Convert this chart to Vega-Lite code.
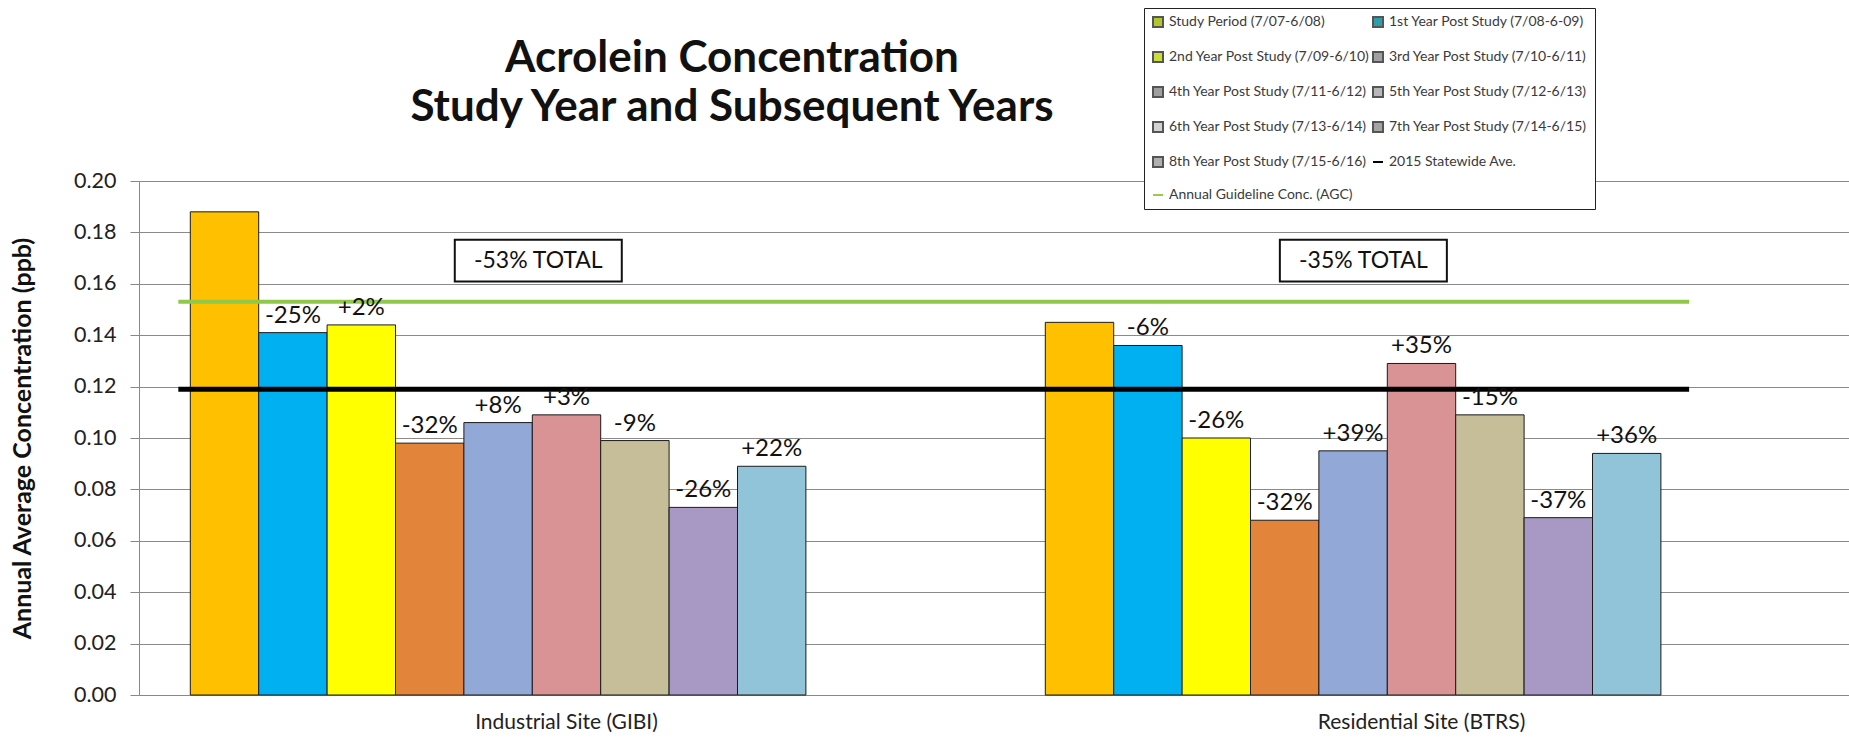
{
  "$schema": "https://vega.github.io/schema/vega-lite/v6.json",
  "width": 1710,
  "height": 514,
  "autosize": {"type": "none"},
  "padding": {"left": 139, "top": 181, "right": 0, "bottom": 44},
  "background": "white",
  "title": {
    "text": ["Acrolein Concentration", "Study Year and Subsequent Years"],
    "font": "Lato",
    "fontSize": 44,
    "fontWeight": "bold",
    "color": "#111111",
    "anchor": "middle",
    "frame": "group",
    "dx": -262,
    "dy": 122,
    "offset": 0,
    "lineHeight": 49
  },
  "config": {
    "view": {"stroke": null},
    "font": "Lato",
    "axis": {"labelFont": "Lato", "titleFont": "Lato"}
  },
  "resolve": {"scale": {"color": "independent", "shape": "independent", "stroke": "independent"}},
  "datasets": {
    "annual": [
      {"site": "Industrial Site (GIBI)", "series": "Study Period (7/07-6/08)", "value": 0.188, "change": ""},
      {"site": "Industrial Site (GIBI)", "series": "1st Year Post Study (7/08-6-09)", "value": 0.141, "change": "-25%"},
      {"site": "Industrial Site (GIBI)", "series": "2nd Year Post Study (7/09-6/10)", "value": 0.144, "change": "+2%"},
      {"site": "Industrial Site (GIBI)", "series": "3rd Year Post Study (7/10-6/11)", "value": 0.098, "change": "-32%"},
      {"site": "Industrial Site (GIBI)", "series": "4th Year Post Study (7/11-6/12)", "value": 0.106, "change": "+8%"},
      {"site": "Industrial Site (GIBI)", "series": "5th Year Post Study (7/12-6/13)", "value": 0.109, "change": "+3%"},
      {"site": "Industrial Site (GIBI)", "series": "6th Year Post Study (7/13-6/14)", "value": 0.099, "change": "-9%"},
      {"site": "Industrial Site (GIBI)", "series": "7th Year Post Study (7/14-6/15)", "value": 0.073, "change": "-26%"},
      {"site": "Industrial Site (GIBI)", "series": "8th Year Post Study (7/15-6/16)", "value": 0.089, "change": "+22%"},
      {"site": "Residential Site (BTRS)", "series": "Study Period (7/07-6/08)", "value": 0.145, "change": ""},
      {"site": "Residential Site (BTRS)", "series": "1st Year Post Study (7/08-6-09)", "value": 0.136, "change": "-6%"},
      {"site": "Residential Site (BTRS)", "series": "2nd Year Post Study (7/09-6/10)", "value": 0.100, "change": "-26%"},
      {"site": "Residential Site (BTRS)", "series": "3rd Year Post Study (7/10-6/11)", "value": 0.068, "change": "-32%"},
      {"site": "Residential Site (BTRS)", "series": "4th Year Post Study (7/11-6/12)", "value": 0.095, "change": "+39%"},
      {"site": "Residential Site (BTRS)", "series": "5th Year Post Study (7/12-6/13)", "value": 0.129, "change": "+35%"},
      {"site": "Residential Site (BTRS)", "series": "6th Year Post Study (7/13-6/14)", "value": 0.109, "change": "-15%"},
      {"site": "Residential Site (BTRS)", "series": "7th Year Post Study (7/14-6/15)", "value": 0.069, "change": "-37%"},
      {"site": "Residential Site (BTRS)", "series": "8th Year Post Study (7/15-6/16)", "value": 0.094, "change": "+36%"}
    ],
    "references": [
      {"series": "2015 Statewide Ave.", "value": 0.119},
      {"series": "Annual Guideline Conc. (AGC)", "value": 0.153}
    ],
    "legendEntries": [
      {"series": "Study Period (7/07-6/08)"},
      {"series": "1st Year Post Study (7/08-6-09)"},
      {"series": "2nd Year Post Study (7/09-6/10)"},
      {"series": "3rd Year Post Study (7/10-6/11)"},
      {"series": "4th Year Post Study (7/11-6/12)"},
      {"series": "5th Year Post Study (7/12-6/13)"},
      {"series": "6th Year Post Study (7/13-6/14)"},
      {"series": "7th Year Post Study (7/14-6/15)"},
      {"series": "8th Year Post Study (7/15-6/16)"},
      {"series": "2015 Statewide Ave."},
      {"series": "Annual Guideline Conc. (AGC)"}
    ],
    "totals": [
      {"site": "Industrial Site (GIBI)", "note": "-53% TOTAL"},
      {"site": "Residential Site (BTRS)", "note": "-35% TOTAL"}
    ]
  },
  "layer": [
    {
      "data": {"name": "annual"},
      "mark": {"type": "bar", "stroke": "#1a1a1a", "strokeWidth": 1},
      "encoding": {
        "x": {
          "field": "site",
          "type": "nominal",
          "sort": ["Industrial Site (GIBI)", "Residential Site (BTRS)"],
          "scale": {"paddingInner": 0, "paddingOuter": 0},
          "axis": {
            "title": null,
            "labelAngle": 0,
            "ticks": false,
            "labelFontSize": 21,
            "labelLimit": 500,
            "labelColor": "#222222",
            "labelPadding": 16,
            "domainColor": "#888888",
            "domainWidth": 1
          }
        },
        "xOffset": {
          "field": "series",
          "type": "nominal",
          "scale": {
            "domain": [
              "Study Period (7/07-6/08)",
              "1st Year Post Study (7/08-6-09)",
              "2nd Year Post Study (7/09-6/10)",
              "3rd Year Post Study (7/10-6/11)",
              "4th Year Post Study (7/11-6/12)",
              "5th Year Post Study (7/12-6/13)",
              "6th Year Post Study (7/13-6/14)",
              "7th Year Post Study (7/14-6/15)",
              "8th Year Post Study (7/15-6/16)",
              "2015 Statewide Ave.",
              "Annual Guideline Conc. (AGC)"
            ],
            "paddingInner": 0,
            "paddingOuter": 0.75,
            "align": 0.5
          }
        },
        "y": {
          "field": "value",
          "type": "quantitative",
          "scale": {"domain": [0, 0.2], "nice": false},
          "axis": {
            "values": [0, 0.02, 0.04, 0.06, 0.08, 0.1, 0.12, 0.14, 0.16, 0.18, 0.2],
            "format": ".2f",
            "title": "Annual Average Concentration (ppb)",
            "titleFontSize": 25,
            "titleFontWeight": "bold",
            "titleColor": "#111111",
            "titlePadding": 38,
            "labelFontSize": 21.5,
            "labelColor": "#222222",
            "labelPadding": 14,
            "tickSize": 9,
            "tickColor": "#888888",
            "gridColor": "#8a8a8a",
            "gridWidth": 1,
            "domainColor": "#888888"
          }
        },
        "color": {
          "field": "series",
          "type": "nominal",
          "scale": {
            "domain": [
              "Study Period (7/07-6/08)",
              "1st Year Post Study (7/08-6-09)",
              "2nd Year Post Study (7/09-6/10)",
              "3rd Year Post Study (7/10-6/11)",
              "4th Year Post Study (7/11-6/12)",
              "5th Year Post Study (7/12-6/13)",
              "6th Year Post Study (7/13-6/14)",
              "7th Year Post Study (7/14-6/15)",
              "8th Year Post Study (7/15-6/16)"
            ],
            "range": ["#FFC000", "#00B0F0", "#FFFF00", "#E2843A", "#92A8D6", "#D99394", "#C5BE98", "#A898C4", "#91C4D8"]
          },
          "legend": null
        }
      }
    },
    {
      "data": {"name": "references"},
      "mark": {"type": "rule"},
      "encoding": {
        "x": {"datum": "Industrial Site (GIBI)", "bandPosition": 0.046},
        "x2": {"datum": "Residential Site (BTRS)", "bandPosition": 0.813},
        "y": {"field": "value", "type": "quantitative"},
        "color": {
          "field": "series",
          "type": "nominal",
          "scale": {"domain": ["2015 Statewide Ave.", "Annual Guideline Conc. (AGC)"], "range": ["#000000", "#92C84A"]},
          "legend": null
        },
        "strokeWidth": {
          "field": "series",
          "type": "nominal",
          "scale": {"domain": ["2015 Statewide Ave.", "Annual Guideline Conc. (AGC)"], "range": [5, 4]},
          "legend": null
        }
      }
    },
    {
      "data": {"name": "annual"},
      "mark": {"type": "text", "baseline": "bottom", "dy": -5, "fontSize": 24, "font": "Lato", "color": "#111111"},
      "encoding": {
        "x": {"field": "site", "type": "nominal", "sort": ["Industrial Site (GIBI)", "Residential Site (BTRS)"]},
        "xOffset": {"field": "series", "type": "nominal"},
        "y": {"field": "value", "type": "quantitative"},
        "text": {"field": "change"}
      }
    },
    {
      "data": {"name": "totals"},
      "transform": [{"filter": "datum.site === 'Industrial Site (GIBI)'"}],
      "encoding": {
        "x": {"field": "site", "type": "nominal", "bandPosition": 0.467},
        "y": {"datum": 0.169}
      },
      "layer": [
        {
          "mark": {"type": "point", "shape": "M-1,-0.25H1V0.25H-1Z", "size": 27889, "filled": true, "fill": "white", "stroke": "#111111", "strokeWidth": 2, "opacity": 1}
        },
        {
          "mark": {"type": "text", "fontSize": 23, "font": "Lato", "color": "#111111", "baseline": "middle"},
          "encoding": {"text": {"field": "note"}}
        }
      ]
    },
    {
      "data": {"name": "totals"},
      "transform": [{"filter": "datum.site === 'Residential Site (BTRS)'"}],
      "encoding": {
        "x": {"field": "site", "type": "nominal", "bandPosition": 0.432},
        "y": {"datum": 0.169}
      },
      "layer": [
        {
          "mark": {"type": "point", "shape": "M-1,-0.25H1V0.25H-1Z", "size": 27889, "filled": true, "fill": "white", "stroke": "#111111", "strokeWidth": 2, "opacity": 1}
        },
        {
          "mark": {"type": "text", "fontSize": 23, "font": "Lato", "color": "#111111", "baseline": "middle"},
          "encoding": {"text": {"field": "note"}}
        }
      ]
    },
    {
      "data": {"name": "legendEntries"},
      "mark": {"type": "point", "filled": true, "opacity": 0.001},
      "encoding": {
        "x": {"datum": "Industrial Site (GIBI)", "bandPosition": 0.1},
        "y": {"datum": 0.05},
        "color": {
          "field": "series",
          "type": "nominal",
          "scale": {
            "domain": [
              "Study Period (7/07-6/08)",
              "1st Year Post Study (7/08-6-09)",
              "2nd Year Post Study (7/09-6/10)",
              "3rd Year Post Study (7/10-6/11)",
              "4th Year Post Study (7/11-6/12)",
              "5th Year Post Study (7/12-6/13)",
              "6th Year Post Study (7/13-6/14)",
              "7th Year Post Study (7/14-6/15)",
              "8th Year Post Study (7/15-6/16)",
              "2015 Statewide Ave.",
              "Annual Guideline Conc. (AGC)"
            ],
            "range": ["#B3C62E", "#2E9EA8", "#C9DC3A", "#A0A0A0", "#A0A0A0", "#B8B8B8", "#D2D2D2", "#A4A4A4", "#B0B0B0", "#000000", "#9BC94A"]
          },
          "legend": {
            "title": null,
            "orient": "none",
            "legendX": 1005,
            "legendY": -173,
            "columns": 2,
            "direction": "horizontal",
            "fillColor": "white",
            "strokeColor": "#222222",
            "padding": 7,
            "rowPadding": 17,
            "columnPadding": -10,
            "labelFont": "Lato",
            "labelFontSize": 14,
            "labelColor": "#3a3a3a",
            "labelOffset": 4,
            "labelLimit": 320,
            "symbolSize": 100,
            "symbolStrokeWidth": 2,
            "symbolOpacity": 1
          }
        },
        "shape": {
          "field": "series",
          "type": "nominal",
          "scale": {
            "domain": [
              "Study Period (7/07-6/08)",
              "1st Year Post Study (7/08-6-09)",
              "2nd Year Post Study (7/09-6/10)",
              "3rd Year Post Study (7/10-6/11)",
              "4th Year Post Study (7/11-6/12)",
              "5th Year Post Study (7/12-6/13)",
              "6th Year Post Study (7/13-6/14)",
              "7th Year Post Study (7/14-6/15)",
              "8th Year Post Study (7/15-6/16)",
              "2015 Statewide Ave.",
              "Annual Guideline Conc. (AGC)"
            ],
            "range": ["square", "square", "square", "square", "square", "square", "square", "square", "square", "stroke", "stroke"]
          },
          "legend": {
            "title": null,
            "orient": "none",
            "legendX": 1005,
            "legendY": -173,
            "columns": 2,
            "direction": "horizontal",
            "symbolOpacity": 1
          }
        },
        "stroke": {
          "field": "series",
          "type": "nominal",
          "scale": {
            "domain": [
              "Study Period (7/07-6/08)",
              "1st Year Post Study (7/08-6-09)",
              "2nd Year Post Study (7/09-6/10)",
              "3rd Year Post Study (7/10-6/11)",
              "4th Year Post Study (7/11-6/12)",
              "5th Year Post Study (7/12-6/13)",
              "6th Year Post Study (7/13-6/14)",
              "7th Year Post Study (7/14-6/15)",
              "8th Year Post Study (7/15-6/16)",
              "2015 Statewide Ave.",
              "Annual Guideline Conc. (AGC)"
            ],
            "range": ["#555555", "#555555", "#555555", "#555555", "#555555", "#555555", "#555555", "#555555", "#555555", "#000000", "#9BC94A"]
          },
          "legend": {
            "title": null,
            "orient": "none",
            "legendX": 1005,
            "legendY": -173,
            "columns": 2,
            "direction": "horizontal",
            "symbolOpacity": 1
          }
        }
      }
    }
  ]
}
